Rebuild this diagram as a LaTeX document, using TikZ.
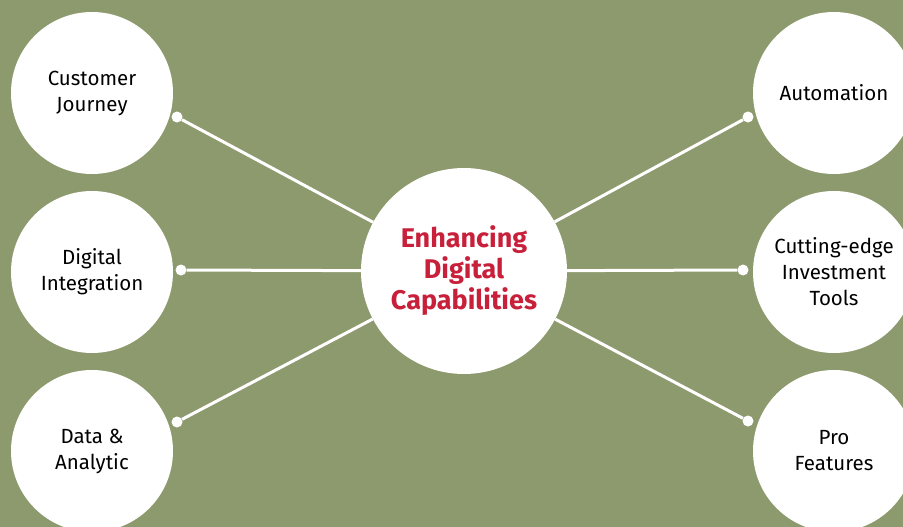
\documentclass[tikz,border=0pt]{standalone}
\usepackage{fontspec}
\setmainfont{Fira Sans}
\definecolor{olive_bg}{RGB}{141,154,110}
\definecolor{hub_red}{RGB}{200,32,58}
\tikzset{
  topic/.style={circle,fill=white,minimum size=162pt,inner sep=0pt,align=center,
    font=\fontsize{20.5}{26}\selectfont,text=black},
  hub/.style={circle,fill=white,minimum size=206pt,inner sep=0pt,align=center,
    font=\fontsize{27}{31}\selectfont\bfseries,text=hub_red},
  knob/.style={circle,fill=white,minimum size=11pt,inner sep=0pt},
  spoke/.style={white,line width=3pt}
}
\begin{document}
\begin{tikzpicture}[x=1pt,y=-1pt]
\clip (0,0) rectangle (903,527);
\fill[olive_bg] (0,0) rectangle (903,527);
\node[hub] (core) at (464,271) {Enhancing\\Digital\\Capabilities};
\node[topic] (journey) at (92,93) {Customer\\Journey};
\node[topic] (integration) at (92,272) {Digital\\Integration};
\node[topic] (analytic) at (92,451) {Data \&\\Analytic};
\node[topic] (automation) at (834,93) {Automation};
\node[topic] (tools) at (834,272) {Cutting-edge\\Investment\\Tools};
\node[topic] (features) at (834,451) {Pro\\Features};
\node[knob] (kjourney) at (177,117) {};
\node[knob] (kintegration) at (181,270) {};
\node[knob] (kanalytic) at (177,422) {};
\node[knob] (kautomation) at (748,117) {};
\node[knob] (ktools) at (743,270) {};
\node[knob] (kfeatures) at (748,421) {};
\draw[spoke] (kjourney) -- (core);
\draw[spoke] (kintegration) -- (core);
\draw[spoke] (kanalytic) -- (core);
\draw[spoke] (kautomation) -- (core);
\draw[spoke] (ktools) -- (core);
\draw[spoke] (kfeatures) -- (core);
\end{tikzpicture}
\end{document}
